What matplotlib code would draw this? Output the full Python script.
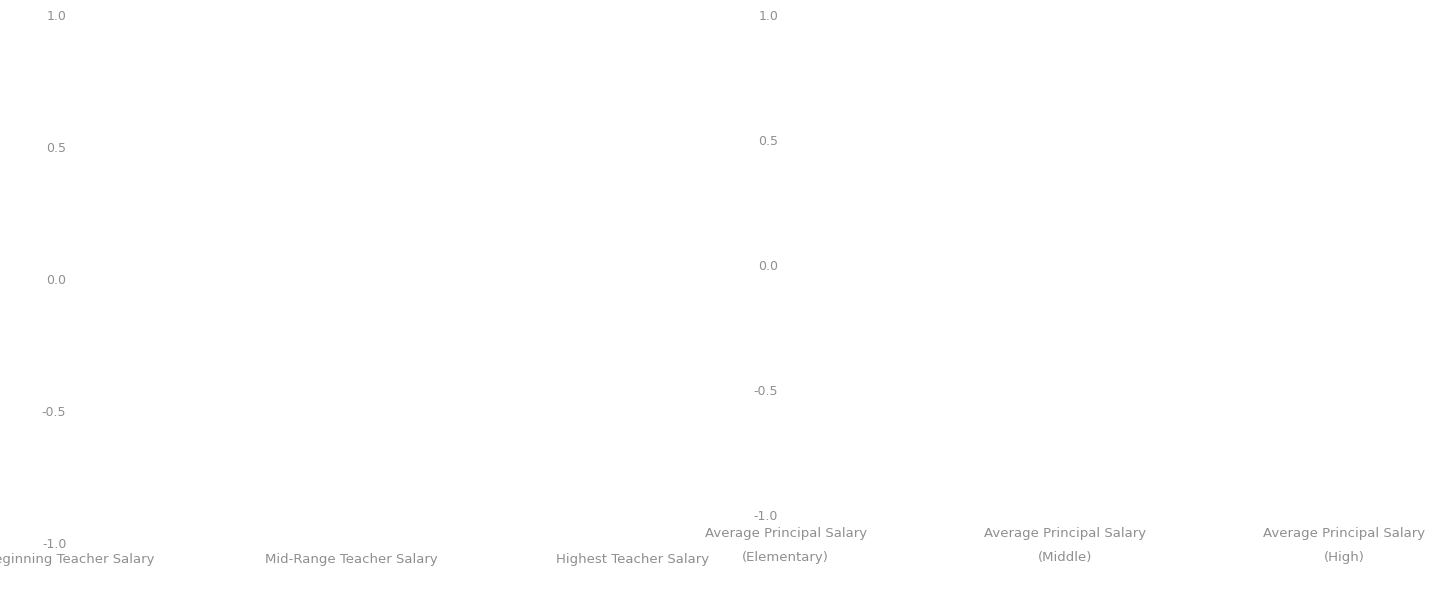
import numpy as np
import matplotlib
matplotlib.use("Agg")
import matplotlib.pyplot as plt

teacher_categories = ["Beginning Teacher Salary", "Mid-Range Teacher Salary", "Highest Teacher Salary"]
principal_categories = ["Average Principal Salary\n(Elementary)",
                        "Average Principal Salary\n(Middle)",
                        "Average Principal Salary\n(High)"]
y_ticks = [-1.0, -0.5, 0.0, 0.5, 1.0]

TEXT_COLOR = "#8f8f8f"
W, H = 1441, 600

plt.rcParams["font.family"] = ["DejaVu Sans"]

fig = plt.figure(figsize=(W / 100, H / 100), dpi=100)

# left panel: teacher salaries
ax1 = fig.add_axes([67 / W, (H - 543) / H, 650 / W, 528 / H])
# right panel: principal salaries
ax2 = fig.add_axes([783 / W, (H - 515) / H, 645 / W, 500 / H])

for ax, cats in [(ax1, teacher_categories), (ax2, principal_categories)]:
    xi = np.arange(len(cats))
    ax.set_xlim(-0.01, 2.3)
    ax.set_ylim(-1.0, 1.0)
    ax.set_xticks(xi)
    ax.set_xticklabels(cats, fontsize=9.5, color=TEXT_COLOR, linespacing=2.0)
    ax.set_yticks(y_ticks)
    ax.set_yticklabels([f"{v:.1f}" for v in y_ticks], fontsize=9, color=TEXT_COLOR)
    ax.tick_params(length=0)
    for s in ax.spines.values():
        s.set_visible(False)
    ax.patch.set_alpha(0)

ax1.tick_params(axis="y", pad=0.5)
ax2.tick_params(axis="y", pad=3.5)
ax1.tick_params(axis="x", pad=7.5)
ax2.tick_params(axis="x", pad=9)

fig.savefig("out.png", dpi=100)
